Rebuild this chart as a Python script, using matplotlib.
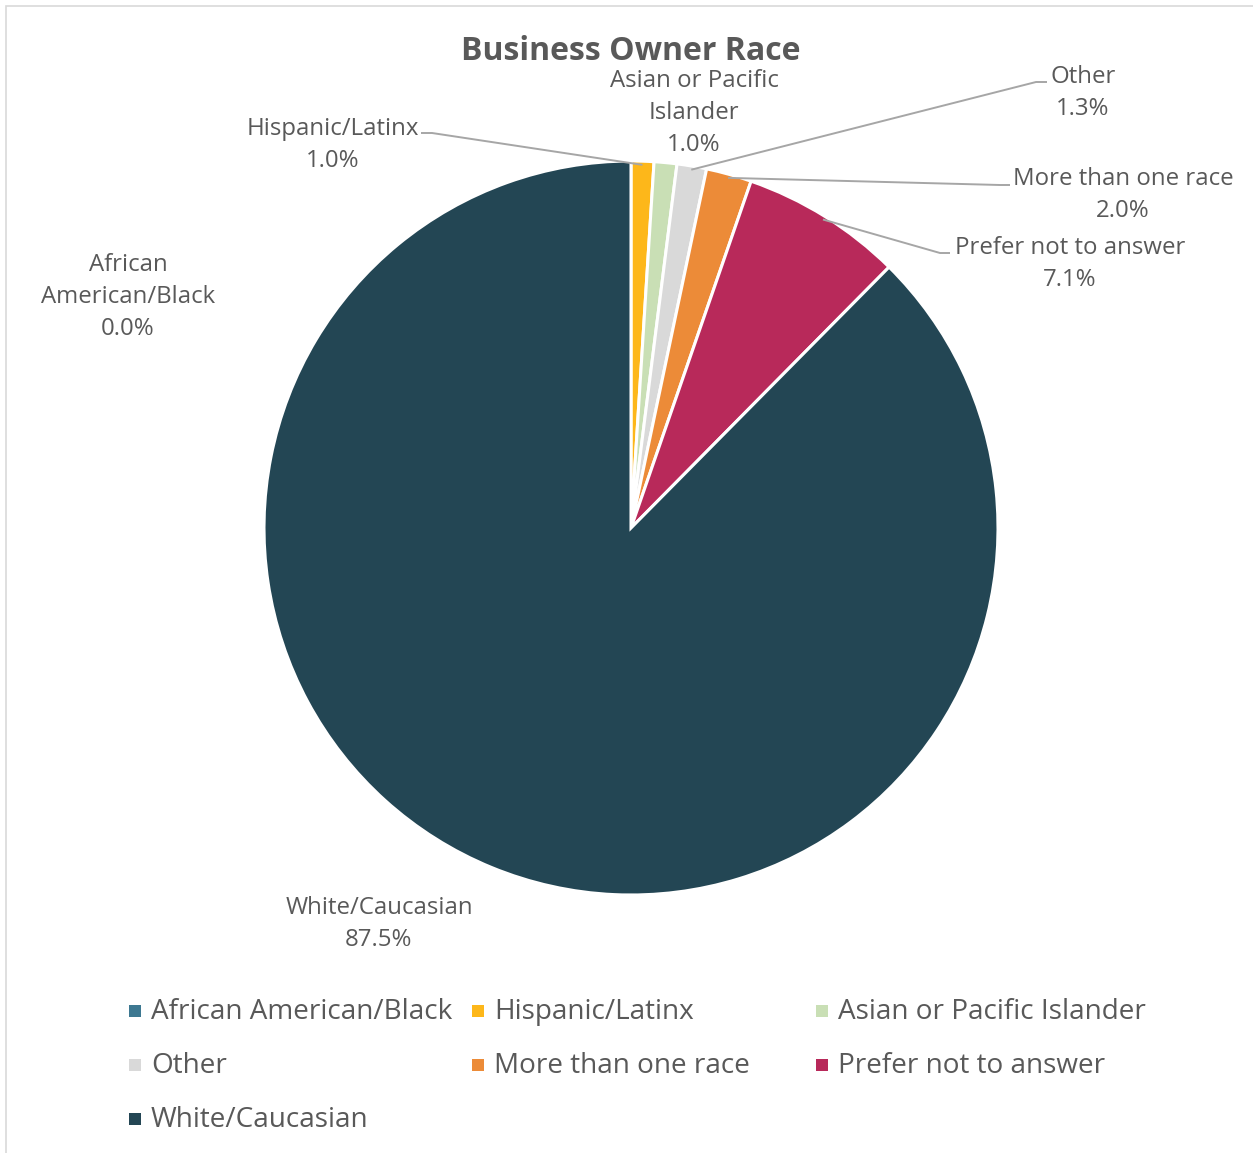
import matplotlib.pyplot as plt
import numpy as np
from matplotlib.patches import Rectangle

plt.rcParams["font.family"] = ["Open Sans", "DejaVu Sans"]

W, H = 1253, 1153
TEXT = "#595959"

categories = ["African American/Black", "Hispanic/Latinx", "Asian or Pacific Islander",
              "Other", "More than one race", "Prefer not to answer", "White/Caucasian"]
shares = [0.0, 1.0, 1.0, 1.3, 2.0, 7.1, 87.5]
colors = ["#3D7891", "#FDB71A", "#C9DFB5", "#D9D9D9", "#EC8B38", "#B8295A", "#234654"]

# label text (pixel position of text centre, lines) and optional leader elbow
label_text = ["African\nAmerican/Black", "Hispanic/Latinx", "Asian or Pacific\nIslander",
              "Other", "More than one race", "Prefer not to answer", "White/Caucasian"]
label_pos = [(128, 297), (333, 145), (694, 113), (1083, 93), (1123, 195), (1070, 264), (379, 924)]
# leader: (elbow point, end point near text) in pixels, None = no leader
leaders = [None, ((432, 133), (421, 133)), None, ((1036, 82), (1047, 82)),
           ((1000, 185), (1010, 185)), ((940, 253), (950, 253)), None]


def fy(y):
    return H - y


fig = plt.figure(figsize=(W / 100, H / 100), dpi=100)
ax = fig.add_axes([0, 0, 1, 1])

cx, cy, R = 631, fy(528), 367
wedges, _ = ax.pie(shares, colors=colors, startangle=90, counterclock=False,
                   center=(cx, cy), radius=R,
                   wedgeprops=dict(edgecolor="white", linewidth=2.2))
ax.set_xlim(0, W)
ax.set_ylim(0, H)
ax.set_aspect("equal")
ax.axis("off")

for w, name, val, pos, ld in zip(wedges, label_text, shares, label_pos, leaders):
    ax.text(pos[0], fy(pos[1]), f"{name}\n{val:.1f}%", ha="center", va="center",
            fontsize=17.3, color=TEXT, linespacing=1.43)
    if ld is not None:
        mid = np.deg2rad((w.theta1 + w.theta2) / 2)
        px, py = cx + R * 0.99 * np.cos(mid), cy + R * 0.99 * np.sin(mid)
        (ex, ey), (tx, ty) = ld
        ax.plot([px, ex, tx], [py, fy(ey), fy(ty)], color="#A6A6A6", lw=1.4,
                solid_capstyle="butt")

ax.text(631, fy(52), "Business Owner Race", ha="center", va="center",
        fontsize=23, fontweight="bold", color=TEXT)

# legend, row-major in three columns
col_x = [135, 478, 822]
row_y = [1011, 1065, 1119]
for i, (name, c) in enumerate(zip(categories, colors)):
    x, y = col_x[i % 3], row_y[i // 3]
    ax.add_patch(Rectangle((x - 6, fy(y) - 6), 12, 12, color=c, lw=0))
    ax.text(x + 16, fy(y + 1), name, ha="left", va="center", fontsize=20.1, color=TEXT)

ax.add_patch(Rectangle((6, -20), W + 20, fy(6) + 20, fill=False, edgecolor="#D9D9D9", lw=1.2))

fig.savefig("out.png", dpi=100)
